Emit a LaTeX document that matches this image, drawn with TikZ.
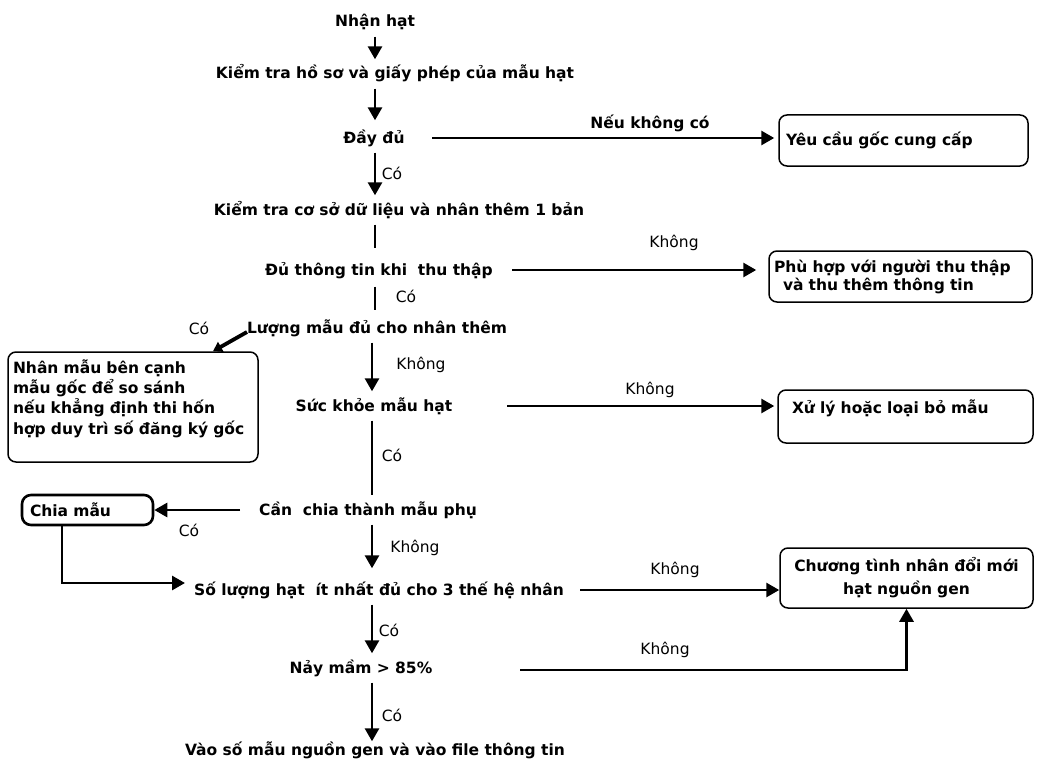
\documentclass[tikz,border=0pt]{standalone}
\usepackage{fontspec}
\setmainfont{DejaVu Sans}
\usetikzlibrary{positioning, arrows.meta, calc}

\newcommand\boldtxt{\fontsize{15.5}{20}\selectfont\bfseries}
\newcommand\plaintxt{\fontsize{15.5}{18}\selectfont}

\begin{document}
\begin{tikzpicture}[
  x=1pt, y=-1pt,
  >={Triangle[width=14pt, length=13pt]},
  every node/.style={font=\boldtxt},
  txt/.style  = {inner xsep=3pt, inner ysep=7pt, text height=12.5pt, text depth=2.5pt},
  lbl/.style  = {font=\plaintxt, inner sep=1pt},
  box/.style  = {draw, line width=1.5pt, rounded corners=8pt, inner ysep=3pt},
  arr/.style  = {->, line width=2.8pt},
  ln/.style   = {line width=2.8pt},
]
  \useasboundingbox (0,0) rectangle (1038,765);
  \coordinate (sp) at (375,0);
  \coordinate (sq) at (372,0);

  % main column
  \node[txt] (nhan)  at (375,22)  {Nhận hạt};
  \node[txt] (kt1)   at (395,74)  {Kiểm tra hồ sơ và giấy phép của mẫu hạt};
  \node[txt] (day)   at (374,138) {Đầy đủ};
  \node[txt] (kt2)   at (399,210) {Kiểm tra cơ sở dữ liệu và nhân thêm 1 bản};
  \node[txt] (du)    at (379,270) {Đủ thông tin khi\ \ thu thập};
  \node[txt] (luong) at (377,328) {Lượng mẫu đủ cho nhân thêm};
  \node[txt] (suc)   at (374,406) {Sức khỏe mẫu hạt};
  \node[txt] (can)   at (368,510) {Cần\ \ chia thành mẫu phụ};
  \node[txt] (so)    at (379,590) {Số lượng hạt\ \ ít nhất đủ cho 3 thế hệ nhân};
  \node[txt] (nay)   at (361,668) {Nảy mầm > 85\%};
  \node[txt] (vao)   at (375,750) {Vào số mẫu nguồn gen và vào file thông tin};

  % side boxes
  \node[box, minimum width=249, minimum height=51, inner xsep=7pt, text width=235pt, align=left]
    (yeucau) at (903.5,140.5) {Yêu cầu gốc cung cấp};
  \node[box, minimum width=263, minimum height=51, inner xsep=5pt, text width=253pt, align=left,
    font=\fontsize{15.5}{18}\selectfont\bfseries]
    (phuhop) at (900.5,276.5) {Phù hợp với người thu thập\\\hspace*{9pt}và thu thêm thông tin};
  \node[box, minimum width=250, minimum height=110, inner xsep=5pt, text width=240pt, align=left,
    font=\fontsize{15.5}{20.3}\selectfont\bfseries]
    (nhanmau) at (133,407) {Nhân mẫu bên cạnh\\mẫu gốc để so sánh\\nếu khẳng định thi hốn\\hợp duy trì số đăng ký gốc\\\mbox{}};
  \node[box, minimum width=255, minimum height=53, inner xsep=14pt, text width=227pt, align=left]
    (xuly) at (905.5,416.5) {Xử lý hoặc loại bỏ mẫu\\\mbox{}};
  \node[box, line width=2.6pt, rounded corners=9pt, minimum width=131, minimum height=30,
    inner xsep=8pt, text width=115pt, align=left]
    (chia) at (87.5,510) {Chia mẫu};
  \node[box, minimum width=253, minimum height=60, inner xsep=5pt, text width=243pt, align=center,
    font=\fontsize{15.5}{23}\selectfont\bfseries]
    (chuong) at (906.5,578) {Chương tình nhân đổi mới\\hạt nguồn gen};

  % spine
  \draw[arr] (sp |- nhan.south) -- (sp |- kt1.north);
  \draw[arr] (sp |- kt1.south) -- ([yshift=3pt]sp |- day.north);
  \draw[arr] (sp |- day.south) -- (sp |- kt2.north);
  \draw[ln]  (sp |- kt2.south) -- ([yshift=7pt]sp |- du.north);
  \draw[ln]  ([yshift=-2pt]sp |- du.south) -- ([yshift=3pt]sp |- luong.north);
  \draw[arr] (sq |- luong.south) -- (sq |- suc.north);
  \draw[ln]  (sq |- suc.south) -- (sq |- can.north);
  \draw[arr] (sq |- can.south) -- ([yshift=7pt]sq |- so.north);
  \draw[arr] (sq |- so.south) -- (sq |- nay.north);
  \draw[arr] (sq |- nay.south) -- ([yshift=-6pt]sq |- vao.north);

  % branches
  \draw[arr] ([xshift=58pt]day.center) -- ([xshift=-4pt]day.center -| yeucau.west);
  \draw[arr] ([xshift=133pt]du.center) -- ([xshift=-12pt]du.center -| phuhop.west);
  \draw[arr] ([xshift=133pt]suc.center) -- ([xshift=-3pt]suc.center -| xuly.west);
  \draw[arr] ([xshift=-128pt]can.center) -- (can.center -| chia.east);
  \draw[arr] ([xshift=-25.5pt]chia.south) |- ([xshift=-194pt,yshift=7pt]so.center);
  \draw[arr] ([xshift=201pt]so.center) -- (so.center -| chuong.west);
  \draw[arr] ([xshift=159pt,yshift=-2pt]nay.center) -| (chuong.south);
  \draw[->, >={Triangle[width=11pt, length=9pt]}, line width=3.8pt]
    ([xshift=-130pt,yshift=-4pt]luong.center) -- ($(nhanmau.north)+(80,0)$);

  % labels
  \node (neu) at (650,123) {Nếu không có};
  \foreach \n/\t/\x/\y in {c1/Có/392/173, k1/Không/674/243, c2/Có/406/296, c3/Có/199/328,
                           k2/Không/421/365, k3/Không/650/390, c4/Có/392/455, c5/Có/189/530,
                           k4/Không/415/548, k5/Không/675/570, c6/Có/389/630, k6/Không/665/650,
                           c7/Có/392/715}
    \node[lbl] (\n) at (\x,\y) {\t};
\end{tikzpicture}
\end{document}
